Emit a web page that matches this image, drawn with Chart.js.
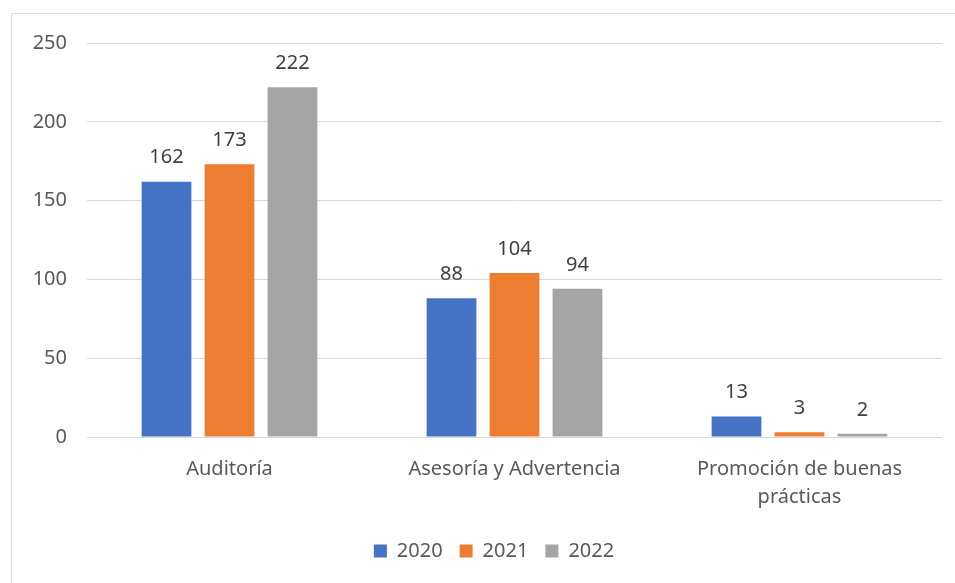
<!DOCTYPE html>
<html>
<head>
<meta charset="utf-8">
<script src="https://cdn.jsdelivr.net/npm/chart.js@4.4.1/dist/chart.umd.min.js"></script>
<style>
  html, body { margin: 0; padding: 0; background: #ffffff; }
  #wrap { position: relative; width: 955px; height: 583px; overflow: hidden; }
  #frame { position: absolute; left: 11px; top: 13px; width: 1000px; height: 700px; border-left: 1px solid #d9d9d9; border-top: 1px solid #d9d9d9; pointer-events: none; }
  canvas { position: absolute; left: 0; top: 0; }
</style>
</head>
<body>
<div id="wrap">
  <div id="frame"></div>
  <canvas id="c" width="955" height="583"></canvas>
</div>
<script>
const categories = ["Auditoría", "Asesoría y Advertencia", ["Promoción de buenas", "prácticas"]];
const seriesNames = ["2020", "2021", "2022"];
const values2020 = [162, 88, 13];
const values2021 = [173, 104, 3];
const values2022 = [222, 94, 2];
const colors = ["#4472C4", "#ED7D31", "#A5A5A5"];
const yTicks = [0, 50, 100, 150, 200, 250];

const FONT = "'Noto Sans', 'Open Sans', sans-serif";

const dataLabels = {
  id: 'dataLabels',
  afterDatasetsDraw(chart) {
    const ctx = chart.ctx;
    ctx.save();
    ctx.font = "20px " + FONT;
    ctx.fillStyle = "#404040";
    ctx.textAlign = "center";
    ctx.textBaseline = "middle";
    chart.data.datasets.forEach((ds, i) => {
      const meta = chart.getDatasetMeta(i);
      meta.data.forEach((bar, j) => {
        ctx.fillText(String(ds.data[j]), bar.x, bar.y - 24);
      });
    });
    ctx.restore();
  }
};

const legendShift = {
  id: 'legendShift',
  afterLayout(chart) {
    if (chart.legend) {
      chart.legend.left += 23;
      chart.legend.right += 23;
    }
  }
};

new Chart(document.getElementById('c'), {
  type: 'bar',
  data: {
    labels: categories,
    datasets: [
      { label: seriesNames[0], data: values2020, backgroundColor: colors[0] },
      { label: seriesNames[1], data: values2021, backgroundColor: colors[1] },
      { label: seriesNames[2], data: values2022, backgroundColor: colors[2] }
    ]
  },
  options: {
    responsive: false,
    animation: false,
    devicePixelRatio: 1,
    layout: { padding: { top: 43, right: 13, bottom: 12, left: 0 } },
    datasets: { bar: { categoryPercentage: 0.663, barPercentage: 0.79 } },
    scales: {
      x: {
        grid: { display: false, drawTicks: false },
        border: { display: false },
        ticks: { color: "#595959", font: { family: FONT, size: 20, lineHeight: 1.4 }, padding: 18, maxRotation: 0, autoSkip: false },
        afterFit(scale) { scale.height = 87; }
      },
      y: {
        min: 0, max: 250,
        grid: { color: "#d9d9d9", lineWidth: 1, drawTicks: false },
        border: { display: false },
        afterBuildTicks(scale) { scale.ticks = yTicks.map(v => ({ value: v })); },
        ticks: { color: "#595959", font: { family: FONT, size: 20 }, padding: 20 },
        afterFit(scale) { scale.width = 87; }
      }
    },
    plugins: {
      legend: {
        position: 'bottom',
        labels: { color: "#595959", font: { family: FONT, size: 20 }, boxWidth: 13, boxHeight: 13, padding: 17 }
      },
      tooltip: { enabled: false }
    }
  },
  plugins: [dataLabels, legendShift]
});
</script>
</body>
</html>
